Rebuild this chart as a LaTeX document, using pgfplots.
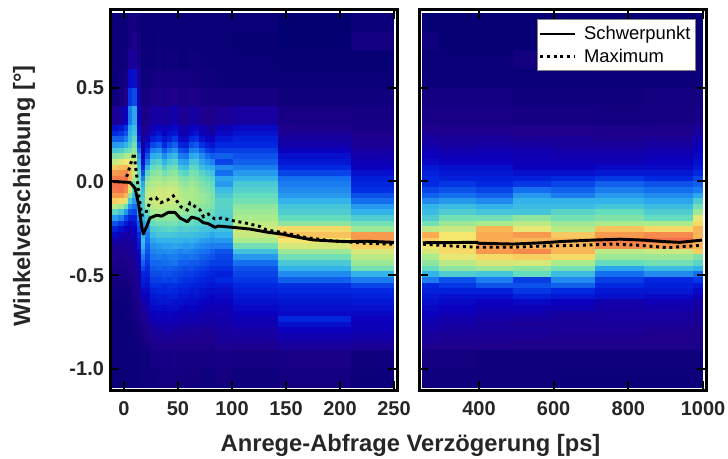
\documentclass[border=0pt]{standalone}
\usepackage{pgfplots}
\usepackage{pgfplotstable}
\usepackage{fontspec}
\setmainfont{Liberation Sans}
\pgfplotsset{compat=1.18}
\pgfplotstableset{col sep=space}
\pgfdeclareplotmark{cellC}{\pgfpathrectanglecorners{\pgfqpoint{-\pgfplotmarksize}{-2.2pt}}{\pgfqpoint{\pgfplotmarksize}{2.2pt}}\pgfusepathqfill}
\pgfdeclareplotmark{cellO}{\pgfpathrectanglecorners{\pgfqpoint{-\pgfplotmarksize}{-7.1pt}}{\pgfqpoint{\pgfplotmarksize}{7.1pt}}\pgfusepathqfill}
% central rows: one line per time bin
\pgfplotstableread{
n v0 v1 v2 v3 v4 v5 v6 v7 v8 v9 v10 v11 v12 v13 v14 v15 v16 v17 v18 v19 v20 v21 v22 v23 v24 v25 v26 v27 v28 v29 v30 v31 v32 v33 v34 v35 v36 v37 v38 v39
y 0.285 0.255 0.225 0.195 0.165 0.135 0.105 0.075 0.045 0.015 -0.015 -0.045 -0.075 -0.105 -0.135 -0.165 -0.195 -0.225 -0.255 -0.285 -0.315 -0.345 -0.375 -0.405 -0.435 -0.465 -0.495 -0.525 -0.555 -0.585 -0.615 -0.645 -0.675 -0.705 -0.735 -0.765 -0.795 -0.825 -0.855 -0.885
a0 24 30 38 46 54 64 74 85 92 96 97 96 92 84 72 58 46 36 28 22 16 13 11 10 9 8 7 6 6 5 5 4 4 4 3 3 3 3 3 3
a1 26 32 38 47 56 66 77 87 93 96 97 97 92 82 68 54 42 32 24 18 14 12 10 9 8 8 7 6 5 5 4 4 4 3 3 3 3 3 3 3
a2 32 36 42 50 60 70 80 88 94 97 96 94 88 76 60 46 34 26 20 15 13 12 11 10 9 8 7 6 6 5 5 4 4 4 4 3 3 3 3 3
a3 48 50 52 56 62 70 78 84 88 88 84 76 66 54 44 36 28 22 18 15 14 13 12 11 10 9 9 8 7 6 6 5 5 5 4 4 4 4 4 4
a4 52 54 58 62 66 70 74 76 74 70 64 58 52 46 40 34 28 24 20 18 16 15 14 13 12 11 10 9 9 8 8 7 7 6 6 5 5 5 4 4
a5 22 24 28 34 40 46 50 54 58 60 62 64 62 58 52 48 42 38 34 30 27 25 22 20 18 16 15 14 13 12 11 10 9 8 8 7 6 6 5 5
a6 10 10 12 14 16 20 24 30 36 42 48 52 54 56 56 54 50 46 46 50 52 50 46 42 38 34 30 28 25 22 19 16 14 12 10 9 8 7 6 6
a7 12 14 18 24 30 36 42 50 58 64 68 72 74 72 68 62 56 50 45 42 40 38 36 34 32 30 28 26 24 22 20 18 16 14 13 12 10 9 8 7
a8 18 22 27 34 42 49 55 60 65 68 71 73 74 74 72 69 65 60 56 52 48 45 43 41 39 37 35 33 31 28 26 24 22 20 18 15 13 12 10 9
a9 21 25 30 37 44 50 57 62 66 69 72 75 76 75 74 70 66 62 57 54 50 46 44 42 39 38 35 33 31 29 27 25 23 21 18 16 14 12 11 9
a10 18 20 25 30 37 44 50 56 62 67 70 74 75 75 73 70 66 62 58 54 50 47 44 41 40 37 36 34 30 29 26 25 22 20 19 17 15 13 11 10
a11 21 24 28 35 42 49 55 61 65 69 72 75 76 75 73 70 67 62 59 55 50 47 45 42 40 38 36 33 31 30 27 25 23 21 19 17 15 13 11 10
a12 22 26 32 38 45 51 57 62 66 69 72 74 75 74 72 70 66 63 58 54 50 48 44 42 41 37 35 34 31 29 28 24 23 20 19 16 14 12 11 9
a13 17 19 23 29 36 42 48 54 60 65 68 71 72 72 70 68 64 60 56 53 50 47 43 41 38 36 34 32 30 27 25 24 21 19 17 16 14 12 10 9
a14 16 18 22 28 34 41 47 52 58 63 66 69 70 71 69 66 63 60 57 53 49 46 44 40 38 35 33 31 29 28 25 23 20 19 17 15 13 11 10 9
a15 20 23 29 35 42 48 54 59 63 66 69 70 71 70 68 66 63 60 56 53 50 47 43 41 37 36 33 31 28 26 24 23 21 18 17 15 13 12 10 9
a16 21 25 31 37 43 49 54 58 62 64 67 69 69 69 67 64 62 58 56 52 49 45 42 40 37 34 32 30 28 26 25 22 20 18 16 15 13 11 10 9
a17 17 19 24 31 38 44 48 52 58 61 64 66 68 68 66 64 60 58 54 51 47 44 41 38 36 33 31 29 27 25 23 21 19 17 16 14 12 11 10 9
a18 15 17 21 27 33 40 45 50 55 59 62 64 66 66 65 63 60 57 54 50 46 43 40 37 35 32 30 28 26 24 22 20 18 17 15 14 12 11 10 9
a19 13 15 20 25 31 37 43 48 53 57 60 62 64 64 63 61 58 55 52 48 45 42 38 36 33 31 29 27 25 23 21 19 18 16 15 13 12 10 9 8
a20 18 22 26 30 33 38 34 44 40 48 46 52 55 58 58 57 56 55 53 50 46 42 36 34 33 31 28 30 26 24 22 20 18 17 16 15 14 13 12 11
a21 22 25 28 30 33 36 38 42 46 50 55 57 60 62 66 68 70 73 75 74 70 62 53 46 40 36 34 32 30 28 26 24 22 20 18 17 15 14 12 11
a22 10 12 14 16 20 24 26 30 34 40 42 44 46 50 54 56 60 66 82 86 80 76 68 62 55 50 44 38 31 29 27 25 24 22 29 24 20 17 15 13
a23 8 10 11 12 14 16 18 20 24 27 29 31 36 40 46 50 56 62 68 92 92 84 76 72 68 62 50 42 34 30 28 26 24 22 20 19 18 16 14 12
r0 10 12 14 16 18 20 22 26 28 30 30 34 38 44 50 52 56 62 72 90 84 80 76 70 66 60 50 42 30 28 26 24 22 20 18 16 15 13 12 10
r1 10 11 13 14 16 18 20 24 26 28 32 36 40 46 52 56 62 68 74 80 80 82 82 78 72 66 56 36 32 28 24 22 20 18 16 15 14 12 11 10
r2 10 11 13 15 17 19 20 24 26 28 30 34 38 44 50 54 62 70 88 90 90 92 92 82 76 68 54 42 36 28 24 20 18 16 15 13 13 12 11 10
r3 10 10 12 14 16 18 18 20 24 28 32 40 46 50 52 54 66 72 78 92 88 88 94 84 76 66 60 33 36 32 28 22 18 16 14 12 13 12 10 9
r4 10 10 12 13 15 17 18 20 24 30 34 38 42 50 52 58 62 68 72 85 88 88 88 82 70 62 52 44 38 30 26 20 18 14 13 12 12 11 10 9
r5 9 10 11 13 15 17 18 22 26 32 38 42 46 50 54 60 64 70 86 92 96 94 72 68 60 48 40 33 30 26 24 16 15 14 14 13 12 11 10 9
r6 9 10 12 14 16 18 20 22 26 30 36 40 44 48 52 56 60 70 82 94 97 92 74 68 62 52 44 30 28 26 22 18 16 14 14 12 11 10 10 9
r7 12 14 16 18 20 22 24 26 30 34 38 42 48 56 62 68 78 82 88 88 88 88 84 64 58 50 40 32 26 22 18 15 14 12 12 11 10 10 9 9
}\tCraw
% outer rows
\pgfplotstableread{
n v0 v1 v2 v3 v4 v5 v6 v7
y 0.85 0.75 0.65 0.55 0.45 0.35 -0.95 -1.05
a0 4 4 4 4 5 12 3 3
a1 4 4 4 5 6 14 3 3
a2 4 4 5 6 10 20 3 3
a3 6 8 12 22 32 42 4 4
a4 7 10 14 24 35 48 4 4
a5 5 6 8 12 16 20 4 4
a6 3 3 4 5 6 8 5 5
a7 3 3 4 5 7 9 5 5
a8 3 3 4 6 9 14 7 5
a9 3 4 5 7 9 15 7 6
a10 3 3 4 6 8 12 8 6
a11 3 4 5 6 9 15 7 6
a12 3 4 5 7 10 16 8 6
a13 3 3 4 6 8 12 7 6
a14 3 3 4 6 8 11 7 5
a15 3 4 5 6 9 14 7 6
a16 3 4 5 6 9 14 7 6
a17 3 3 4 5 8 11 7 5
a18 3 3 4 5 7 10 7 5
a19 3 3 4 5 7 9 7 5
a20 3 3 3 4 6 12 8 6
a21 3 2 3 4 7 14 7 5
a22 1 1 2 3 5 8 8 6
a23 4 6 2 3 5 7 5 4
r0 2 5 3 4 6 8 6 5
r1 2 2 3 4 6 8 6 5
r2 2 2 3 4 6 8 5 5
r3 2 2 6 3 5 7 5 5
r4 2 2 3 3 5 7 5 4
r5 2 2 3 4 5 6 5 4
r6 2 2 3 4 6 7 5 4
r7 2 2 3 4 6 8 5 4
}\tOraw
\pgfplotstabletranspose[colnames from=n,input colnames to=k]\tC{\tCraw}
\pgfplotstabletranspose[colnames from=n,input colnames to=k]\tO{\tOraw}
\newcommand\hm[3]{%
\addplot[forget plot,scatter,only marks,mark=cellC,mark size=#3pt,scatter src=explicit] table[x expr=#2,y=y,meta=#1]{\tC};
\addplot[forget plot,scatter,only marks,mark=cellO,mark size=#3pt,scatter src=explicit] table[x expr=#2,y=y,meta=#1]{\tO};}
\pgfplotsset{
 panel/.style={
  scale only axis,width=215.25pt,height=285.75pt,anchor=south west,
  ymin=-1.1159,ymax=0.9183,
  ytick={-1,-0.5,0,0.5},
  axis on top,clip marker paths=true,
  point meta min=0,point meta max=100,
  colormap={ref}{rgb255=(0,0,110) rgb255=(30,0,140) rgb255=(10,0,190) rgb255=(0,40,225) rgb255=(20,110,240) rgb255=(50,180,235) rgb255=(100,220,190) rgb255=(170,235,140) rgb255=(245,230,110) rgb255=(250,170,80) rgb255=(240,90,70)},
  axis line style={line width=2.25pt,black},
  tick align=inside,major tick length=7pt,
  every tick/.append style={line width=1.5pt,black},
  xtick pos=both,ytick pos=both,
  xticklabel pos=bottom,yticklabel pos=left,
  tick label style={font=\bfseries\fontsize{15}{15}\selectfont,text=black!85},
  xticklabel style={yshift=-5pt},
  yticklabel style={xshift=-1pt},
  legend image code/.code={\draw[#1,line width=2pt] (0pt,0pt) -- (26.25pt,0pt);},
 },
 solid curve/.style={black,line width=2.2pt,line join=round,no marks},
 dot curve/.style={black,line width=2.2pt,no marks,dash pattern=on 2.2pt off 2.8pt},
}
\begin{document}
\begin{tikzpicture}
\path[use as bounding box] (0,0) rectangle (546pt,344.25pt);
\begin{axis}[panel,at={(82.5pt,51.375pt)},xmin=-12.96,xmax=252.8,
 xtick={0,50,100,150,200,250},xticklabels={0,50,100,150,200,250},
 yticklabels={-1.0,-0.5,0.0,0.5}]
\hm{a0}{-7.75}{2.38}\hm{a1}{-2.5}{2.18}\hm{a2}{2}{1.77}\hm{a3}{6}{1.77}\hm{a4}{10}{1.77}\hm{a5}{14}{1.77}\hm{a6}{18}{1.77}\hm{a7}{22}{1.77}
\hm{a8}{27}{2.58}\hm{a9}{32.5}{2.18}\hm{a10}{37.5}{2.18}\hm{a11}{42.5}{2.18}\hm{a12}{47.5}{2.18}\hm{a13}{52.5}{2.18}\hm{a14}{57.5}{2.18}\hm{a15}{62.5}{2.18}\hm{a16}{67.5}{2.18}\hm{a17}{72.5}{2.18}\hm{a18}{77.5}{2.18}\hm{a19}{82}{1.77}
\hm{a20}{92.5}{7.03}\hm{a21}{122}{17.16}\hm{a22}{176.5}{27.28}\hm{a23}{230}{16.35}
\addplot[solid curve] coordinates {(-10.5,0)(5.6,-0.005)(10.2,-0.035)(13.3,-0.115)(16.4,-0.24)(17.9,-0.28)(21,-0.24)(24,-0.195)(30.3,-0.18)(34.9,-0.185)(41,-0.165)(47.2,-0.165)(51.9,-0.195)(58.6,-0.215)(62.7,-0.19)(68.8,-0.2)(73.5,-0.22)(78,-0.225)(84.3,-0.245)(87.3,-0.238)(101,-0.245)(116.7,-0.254)(132,-0.27)(147.5,-0.282)(163,-0.3)(175,-0.312)(193.7,-0.318)(209,-0.321)(224.7,-0.319)(250,-0.325)};
\addplot[dot curve] coordinates {(2.5,0.025)(5,0.072)(7,0.11)(9.3,0.152)(11.1,0.06)(12.7,-0.01)(13.9,-0.08)(16.4,-0.18)(19.4,-0.18)(22.5,-0.135)(24.7,-0.094)(29.6,-0.087)(34,-0.113)(40.4,-0.099)(45.7,-0.077)(52.8,-0.136)(58.6,-0.152)(61,-0.115)(70.4,-0.152)(73.6,-0.188)(78,-0.174)(84,-0.2)(90.4,-0.195)(101.4,-0.21)(113.6,-0.223)(126,-0.241)(132,-0.259)(147.4,-0.273)(169,-0.3)(194,-0.318)(209,-0.323)(224.7,-0.33)(250,-0.335)};
\end{axis}
\begin{axis}[panel,at={(314.25pt,51.375pt)},xmin=239.3,xmax=1008,
 xtick={400,600,800,1000},xticklabels={400,600,800,1000},
 yticklabels={},
 legend style={at={(0.964,0.975)},anchor=north east,draw=gray,line width=0.8pt,fill=white,font=\fontsize{13.8}{15}\selectfont,inner xsep=1.5pt,inner ysep=3pt,row sep=1.5pt,/tikz/every even column/.append style={column sep=0pt},/tikz/every odd column/.append style={column sep=3.5pt}},
 legend cell align=left]
\hm{r0}{270.7}{6.34}\hm{r1}{343.3}{14.29}\hm{r2}{442.4}{13.76}\hm{r3}{542}{14.42}\hm{r4}{651.8}{16.64}\hm{r5}{776.4}{18.53}\hm{r6}{907.7}{18.53}\hm{r7}{986.3}{3.78}
\addplot[solid curve] coordinates {(250,-0.327)(394,-0.325)(400,-0.33)(491,-0.334)(572,-0.327)(625,-0.32)(705,-0.313)(778,-0.308)(840,-0.313)(904,-0.322)(938,-0.325)(997,-0.313)};
\addplot[dot curve] coordinates {(250,-0.335)(322,-0.344)(394,-0.351)(491,-0.351)(581,-0.344)(670,-0.341)(759,-0.334)(831,-0.341)(903,-0.353)(996,-0.341)};
\legend{Schwerpunkt,Maximum}
\end{axis}
\node[font=\bfseries\fontsize{17.8}{18}\selectfont,text=black!85] at (307.9pt,10.5pt) {Anrege-Abfrage Verzögerung [ps]};
\node[font=\bfseries\fontsize{17.7}{18}\selectfont,text=black!85,rotate=90] at (18pt,197.25pt) {Winkelverschiebung [°]};
\end{tikzpicture}
\end{document}
